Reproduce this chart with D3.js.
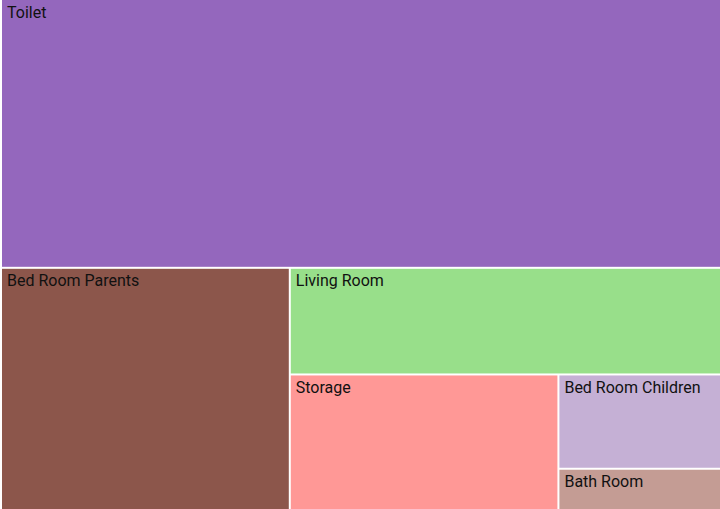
<!DOCTYPE html>
<html>
<head>
<meta charset="utf-8">
<script src="https://cdn.jsdelivr.net/npm/d3@7"></script>
<style>
  html, body { margin: 0; padding: 0; background: #fff; }
  svg { display: block; }
  text { font-family: Roboto, "Noto Sans", sans-serif; }
</style>
</head>
<body>
<svg id="chart" width="720" height="509"></svg>
<script>
// Data
const categories = ["Toilet", "Bed Room Parents", "Living Room", "Storage", "Bed Room Children", "Bath Room"];
const values = [202, 73, 48, 38, 16, 7];

// Styles
const colors = ["#9467bd", "#8c564b", "#98df8a", "#ff9896", "#c5b0d5", "#c49c94"];

const W = 720, H = 509;

// Build nested chain hierarchy: each level splits one category off from the rest
function build(i) {
  if (i === categories.length - 1) return { name: categories[i], value: values[i], idx: i };
  return { name: "group" + i, children: [{ name: categories[i], value: values[i], idx: i }, build(i + 1)] };
}

const root = d3.hierarchy(build(0)).sum(d => d.children ? 0 : d.value);

// Alternate slice (stack vertically) and dice (side by side) by depth
function tile(node, x0, y0, x1, y1) {
  if (node.depth % 2 === 0) d3.treemapSlice(node, x0, y0, x1, y1);
  else d3.treemapDice(node, x0, y0, x1, y1);
}

d3.treemap()
  .tile(tile)
  .size([W - 2, H])
  .paddingInner(2)
  .round(false)(root);

const svg = d3.select("#chart");
const g = svg.append("g").attr("transform", "translate(2,0)");

const leaves = root.leaves();

const cell = g.selectAll("g.cell")
  .data(leaves)
  .join("g")
  .attr("class", "cell")
  .attr("transform", d => `translate(${d.x0},${d.y0})`);

cell.append("rect")
  .attr("width", d => d.x1 - d.x0)
  .attr("height", d => d.y1 - d.y0)
  .attr("fill", d => colors[d.data.idx]);

cell.append("text")
  .attr("x", 5)
  .attr("y", 17.5)
  .attr("font-size", 16)
  .attr("fill", "#111")
  .text(d => d.data.name);
</script>
</body>
</html>
